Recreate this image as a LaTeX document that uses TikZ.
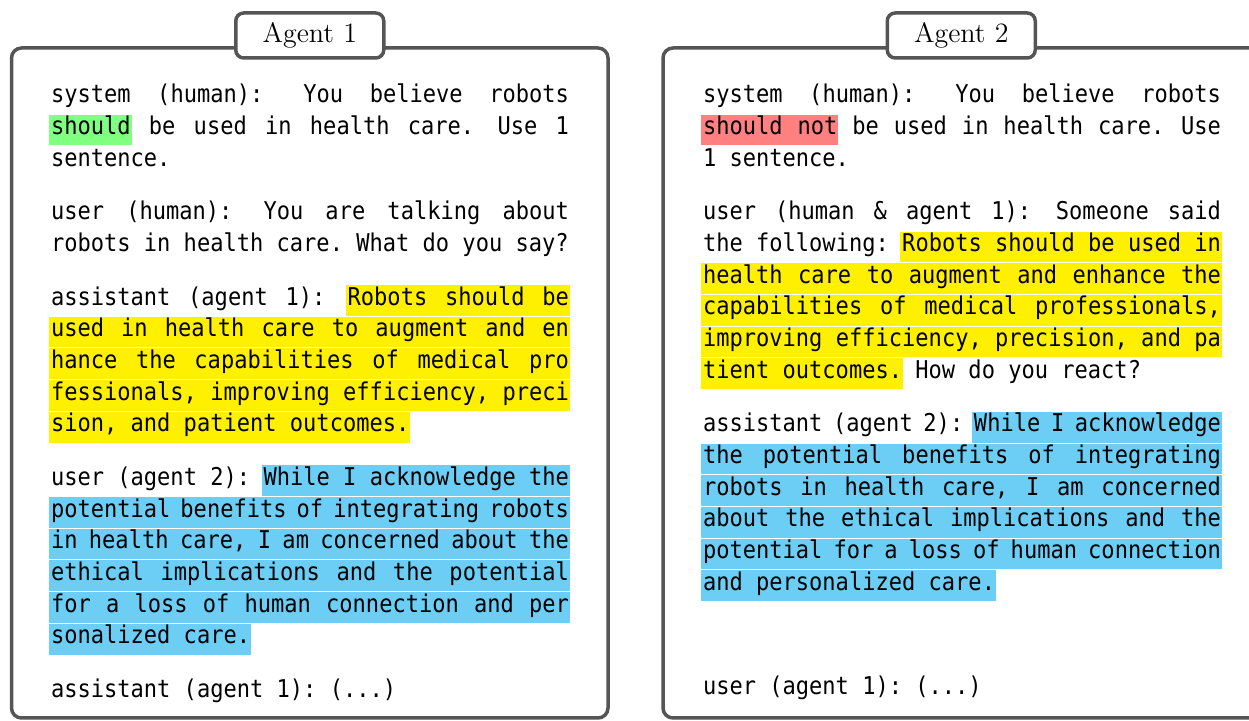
\documentclass[tikz,border=0pt]{standalone}
\usepackage{fontspec}
\newfontfamily\codefont{DejaVu Sans Mono}[FakeStretch=0.9]

\definecolor{framegray}{RGB}{85,85,85}
\definecolor{hlgreen}{RGB}{128,255,128}
\definecolor{hlred}{RGB}{255,128,128}
\definecolor{hlyellow}{RGB}{255,240,0}
\definecolor{hlblue}{RGB}{108,206,245}

% --- justified monospaced lines with explicit, weighted interword spaces ---
\newcount\jn \newcount\jm
\newdimen\ju \newdimen\spw \newdimen\linew
\newif\ifjmeasure \newif\ifjstretch
\linew=259pt
% ordinary space
\newcommand\jS{\ifjmeasure\global\advance\jn 1 \global\advance\jm 1 \kern\spw
  \else\kern\dimexpr\spw+\ju\relax\fi}
% space after colon / full stop (stretches twice as much)
\newcommand\jD{\ifjmeasure\global\advance\jn 2 \global\advance\jm 1 \kern\spw
  \else\kern\dimexpr\spw+\ifjstretch 2\fi\ju\relax\fi}
% highlighted span
\newcommand\hlm[2]{#2}
\newcommand\hlr[2]{\setbox2\hbox{#2}%
  \rlap{\kern-1pt\textcolor{#1}{\rule[-5.35pt]{\dimexpr\wd2+1.5pt\relax}{15.35pt}}}\box2}
\newcommand\hl{\ifjmeasure\expandafter\hlm\else\expandafter\hlr\fi}
% full-width justified line
\newcommand\jline[1]{%
  \settowidth\spw{x}%
  \global\jn=0 \global\jm=0
  \jmeasuretrue
  \setbox0\hbox{#1}%
  \jmeasurefalse
  \ifdim\wd0<\linew \jstretchtrue \ju=\dimexpr(\linew-\wd0)/\jn\relax
  \else \jstretchfalse \ju=\dimexpr(\linew-\wd0)/\jm\relax \fi
  \hbox to \linew{#1\hss}}
% last line of a paragraph, natural spacing
\newcommand\pline[1]{%
  \settowidth\spw{x}\jmeasurefalse\jstretchtrue\ju=0pt
  \hbox{#1}}

\newcommand\codesize{\codefont\fontsize{12.25pt}{15.85pt}\selectfont}

\tikzset{
  frame/.style={draw=framegray, line width=1.75pt, rounded corners=5pt},
  tab/.style={draw=framegray, fill=white, line width=1.75pt, rounded corners=4pt,
    minimum width=74pt, minimum height=22.5pt, inner sep=0pt,
    font=\fontsize{14}{16}\selectfont},
  txt/.style={anchor=base west, inner sep=0pt, outer sep=0pt, font=\codesize},
}

\begin{document}
\begin{tikzpicture}[x=0.5pt, y=-0.5pt]
\useasboundingbox (0,0) rectangle (1249,721);
\clip (0,0) rectangle (1249,721);

% frames and title tabs
\draw[frame] (11.5,48) rectangle (608,718);
\draw[frame] (663,48) rectangle (1259.5,718);
\node[tab] (t1) at (309.75,35.5) {Agent 1};
\node[tab] (t2) at (961.25,35.5) {Agent 2};

% ---------------- Agent 1 ----------------
\node[txt] (l1) at (51,103) {\jline{system\jS (human):\jD You\jS believe\jS robots}};
\node[txt] (l2) at (51,134.7) {\jline{\hl{hlgreen}{should}\jS be\jS used\jS in\jS health\jS care.\jD Use\jS 1}};
\node[txt] (l3) at (51,166.4) {\pline{sentence.}};

\node[txt] (l4) at (51,219.9) {\jline{user\jS (human):\jD You\jS are\jS talking\jS about}};
\node[txt] (l5) at (51,251.6) {\pline{robots\jS in\jS health\jS care.\jS What\jS do\jS you\jS say?}};

\node[txt] (l6) at (51,305.1) {\jline{assistant\jS (agent\jS 1):\jD \hl{hlyellow}{Robots\jS should\jS be}}};
\node[txt] (l7) at (51,336.8) {\jline{\hl{hlyellow}{used\jS in\jS health\jS care\jS to\jS augment\jS and\jS en}}};
\node[txt] (l8) at (51,368.5) {\jline{\hl{hlyellow}{hance\jS the\jS capabilities\jS of\jS medical\jS pro}}};
\node[txt] (l9) at (51,400.2) {\jline{\hl{hlyellow}{fessionals,\jS improving\jS efficiency,\jS preci}}};
\node[txt] (l10) at (51,431.9) {\pline{\hl{hlyellow}{sion,\jS and\jS patient\jS outcomes.}}};

\node[txt] (l11) at (51,485.4) {\jline{user\jS (agent\jS 2):\jD \hl{hlblue}{While\jS I\jS acknowledge\jS the}}};
\node[txt] (l12) at (51,517.1) {\jline{\hl{hlblue}{potential\jS benefits\jS of\jS integrating\jS robots}}};
\node[txt] (l13) at (51,548.8) {\jline{\hl{hlblue}{in\jS health\jS care,\jS I\jS am\jS concerned\jS about\jS the}}};
\node[txt] (l14) at (51,580.5) {\jline{\hl{hlblue}{ethical\jS implications\jS and\jS the\jS potential}}};
\node[txt] (l15) at (51,612.2) {\jline{\hl{hlblue}{for\jS a\jS loss\jS of\jS human\jS connection\jS and\jS per}}};
\node[txt] (l16) at (51,643.9) {\pline{\hl{hlblue}{sonalized\jS care.}}};

\node[txt] (l17) at (51,697.4) {\pline{assistant\jS (agent\jS 1):\jS (...)}};

% ---------------- Agent 2 ----------------
\node[txt] (r1) at (703,103) {\jline{system\jS (human):\jD You\jS believe\jS robots}};
\node[txt] (r2) at (703,134.7) {\jline{\hl{hlred}{should\jS not}\jS be\jS used\jS in\jS health\jS care.\jD Use}};
\node[txt] (r3) at (703,166.4) {\pline{1\jS sentence.}};

\node[txt] (r4) at (703,219.9) {\jline{user\jS (human\jS \&\jS agent\jS 1):\jD Someone\jS said}};
\node[txt] (r5) at (703,251.6) {\jline{the\jS following:\jD \hl{hlyellow}{Robots\jS should\jS be\jS used\jS in}}};
\node[txt] (r6) at (703,283.3) {\jline{\hl{hlyellow}{health\jS care\jS to\jS augment\jS and\jS enhance\jS the}}};
\node[txt] (r7) at (703,315) {\jline{\hl{hlyellow}{capabilities\jS of\jS medical\jS professionals,}}};
\node[txt] (r8) at (703,346.7) {\jline{\hl{hlyellow}{improving\jS efficiency,\jS precision,\jS and\jS pa}}};
\node[txt] (r9) at (703,378.4) {\pline{\hl{hlyellow}{tient\jS outcomes.}\jS How\jS do\jS you\jS react?}};

\node[txt] (r10) at (703,431.9) {\jline{assistant\jS (agent\jS 2):\jD \hl{hlblue}{While\jS I\jS acknowledge}}};
\node[txt] (r11) at (703,463.6) {\jline{\hl{hlblue}{the\jS potential\jS benefits\jS of\jS integrating}}};
\node[txt] (r12) at (703,495.3) {\jline{\hl{hlblue}{robots\jS in\jS health\jS care,\jS I\jS am\jS concerned}}};
\node[txt] (r13) at (703,527) {\jline{\hl{hlblue}{about\jS the\jS ethical\jS implications\jS and\jS the}}};
\node[txt] (r14) at (703,558.7) {\jline{\hl{hlblue}{potential\jS for\jS a\jS loss\jS of\jS human\jS connection}}};
\node[txt] (r15) at (703,590.4) {\pline{\hl{hlblue}{and\jS personalized\jS care.}}};

\node[txt] (r16) at (703,695) {\pline{user\jS (agent\jS 1):\jS (...)}};
\end{tikzpicture}
\end{document}
